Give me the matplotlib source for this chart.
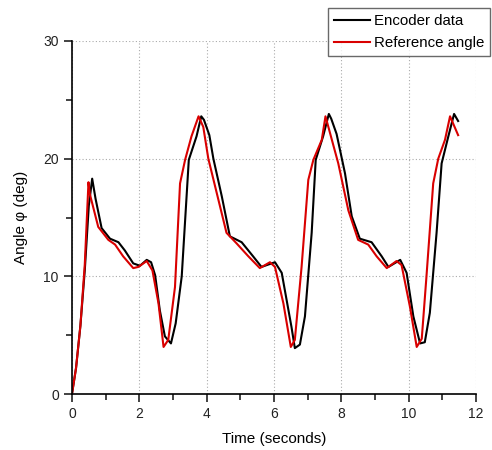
import numpy as np
import matplotlib
matplotlib.use("Agg")
import matplotlib.pyplot as plt
from matplotlib.ticker import MultipleLocator

# encoder (measured) angle
enc_t = [0.0, 0.12, 0.25, 0.38, 0.50, 0.60, 0.70, 0.88, 1.13, 1.38, 1.57, 1.82, 2.02, 2.22, 2.35,
         2.47, 2.61, 2.76, 2.94, 3.08, 3.26, 3.47, 3.70, 3.84, 3.92, 4.08, 4.20, 4.45, 4.69, 5.04,
         5.38, 5.63, 6.03, 6.23, 6.52, 6.62, 6.77, 6.92, 7.12, 7.24, 7.46, 7.63, 7.70, 7.86, 8.11,
         8.31, 8.55, 8.90, 9.20, 9.40, 9.75, 9.94, 10.14, 10.34, 10.48, 10.63, 10.83, 10.98, 11.18,
         11.35, 11.47]
enc_v = [0.0, 2.2, 5.8, 10.5, 16.0, 18.3, 16.6, 14.1, 13.2, 12.9, 12.2, 11.1, 10.9, 11.4, 11.2,
         10.1, 7.1, 4.9, 4.3, 6.0, 10.0, 19.9, 21.9, 23.6, 23.3, 22.0, 20.0, 16.8, 13.4, 12.9,
         11.7, 10.8, 11.2, 10.3, 5.7, 3.9, 4.2, 6.6, 13.7, 19.9, 21.9, 23.8, 23.4, 22.1, 18.75,
         15.1, 13.2, 12.9, 11.7, 10.8, 11.4, 10.3, 6.6, 4.3, 4.4, 6.9, 13.7, 19.6, 21.9,
         23.8, 23.2]

# reference angle
ref_t = [0.0, 0.12, 0.25, 0.38, 0.49, 0.53, 0.78, 1.08, 1.28, 1.52, 1.82, 1.97, 2.22, 2.39, 2.57,
         2.72, 2.86, 3.06, 3.21, 3.36, 3.55, 3.76, 3.90, 4.05, 4.35, 4.59, 4.89, 5.24, 5.58, 5.88,
         6.03, 6.28, 6.50, 6.62, 6.82, 7.02, 7.17, 7.42, 7.53, 7.91, 8.21, 8.50, 8.80, 9.05, 9.35,
         9.64, 9.79, 10.04, 10.24, 10.39, 10.53, 10.73, 10.88, 11.08, 11.23, 11.47]
ref_v = [0.0, 2.2, 5.8, 11.0, 18.0, 17.0, 14.2, 13.1, 12.7, 11.7, 10.7, 10.8, 11.3, 10.5, 7.7,
         4.0, 4.6, 9.1, 17.9, 19.9, 21.9, 23.6, 22.7, 20.0, 16.5, 13.7, 12.8, 11.7, 10.7, 11.2,
         10.8, 7.7, 4.0, 4.6, 10.8, 18.2, 19.9, 21.6, 23.6, 19.6, 15.6, 13.1, 12.7, 11.7, 10.7,
         11.3, 10.96, 7.4, 4.0, 4.7, 10.0, 17.9, 20.0, 21.6, 23.6, 22.0]

plt.rcParams["font.family"] = ["Liberation Sans", "DejaVu Sans"]

fig = plt.figure(figsize=(4.92, 4.5), dpi=100)
ax = fig.add_axes([0.1463, 0.1244, 0.8211, 0.7845])

ax.plot(enc_t, enc_v, color="black", lw=1.5, label="Encoder data")
ax.plot(ref_t, ref_v, color="#d90000", lw=1.5, label="Reference angle")

ax.set_xlim(0, 12)
ax.set_ylim(0, 30)
ax.xaxis.set_major_locator(MultipleLocator(2))
ax.xaxis.set_minor_locator(MultipleLocator(1))
ax.yaxis.set_major_locator(MultipleLocator(10))
ax.yaxis.set_minor_locator(MultipleLocator(5))
ax.tick_params(which="both", direction="out", labelsize=10, colors="#222222")
ax.tick_params(which="major", length=6, width=1.2)
ax.tick_params(which="minor", length=4, width=1.2)
for s in ("top", "right"):
    ax.spines[s].set_visible(False)
for s in ("left", "bottom"):
    ax.spines[s].set_linewidth(1.2)
ax.grid(True, which="major", linestyle=(0, (1, 2)), color="#aaaaaa", lw=0.8)

ax.set_xlabel("Time (seconds)", fontsize=11, labelpad=8)
ax.set_ylabel("Angle φ (deg)", fontsize=11, labelpad=11)

leg = ax.legend(loc="upper right", bbox_to_anchor=(1.035, 1.093), frameon=True, fancybox=False,
                fontsize=10.8, handlelength=2.35, borderpad=0.4, labelspacing=0.55,
                handletextpad=0.28, borderaxespad=0)
leg.get_frame().set_edgecolor("#444444")
leg.get_frame().set_linewidth(1.0)
leg.set_clip_on(False)

fig.savefig("out.png", dpi=100)
